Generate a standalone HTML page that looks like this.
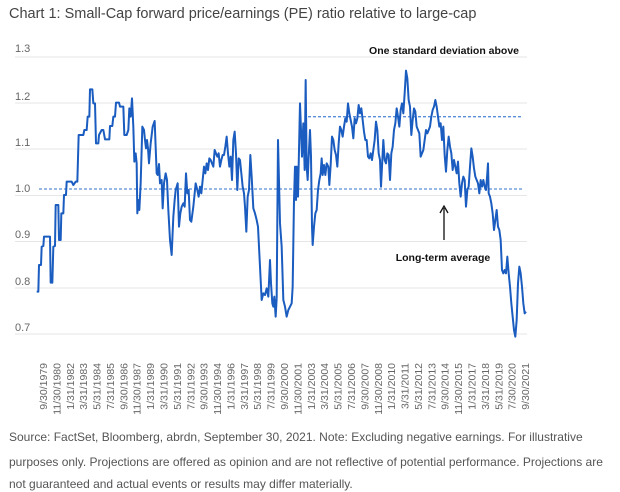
<!DOCTYPE html>
<html><head><meta charset="utf-8"><style>
html,body{margin:0;padding:0;background:#fff;width:620px;height:492px;overflow:hidden}
svg{display:block;font-family:"Liberation Sans",sans-serif}
</style></head><body>
<svg width="620" height="492" viewBox="0 0 620 492">
<text x="9" y="18" font-size="14.5" fill="#444">Chart 1: Small-Cap forward price/earnings (PE) ratio relative to large-cap</text>
<g stroke="#e6e6e6" stroke-width="1">
<line x1="15" x2="527" y1="57" y2="57"/><line x1="15" x2="527" y1="103" y2="103"/>
<line x1="15" x2="527" y1="149" y2="149"/><line x1="15" x2="527" y1="195.5" y2="195.5"/>
<line x1="15" x2="527" y1="241.5" y2="241.5"/><line x1="15" x2="527" y1="288" y2="288"/>
<line x1="15" x2="527" y1="334" y2="334"/>
</g>
<g font-size="11" fill="#666">
<text x="15" y="52">1.3</text><text x="15" y="100">1.2</text><text x="15" y="146">1.1</text>
<text x="15" y="192">1.0</text><text x="15" y="238">0.9</text><text x="15" y="285">0.8</text><text x="15" y="331">0.7</text>
</g>
<g stroke="#5b8ed8" stroke-width="1.3" stroke-dasharray="3,2">
<line x1="39" x2="522" y1="189" y2="189"/>
<line x1="308" x2="522" y1="116.7" y2="116.7"/>
</g>
<text x="519" y="54" font-size="10.5" font-weight="bold" fill="#111" text-anchor="end">One standard deviation above</text>
<text x="443" y="261" font-size="10.5" font-weight="bold" fill="#111" text-anchor="middle">Long-term average</text>
<line x1="444" y1="240" x2="444" y2="208" stroke="#111" stroke-width="1.3"/>
<path d="M440,213 L444,206 L448,213" fill="none" stroke="#111" stroke-width="1.3"/>
<g fill="none" stroke="#1a5cbf" stroke-width="2" stroke-linejoin="round">
<g transform="translate(20,40) scale(0.33333)">
<polyline vector-effect="non-scaling-stroke" points="50,755 55,755 57,675 63,675 65,620 70,618 72,590 90,590 92,728 97,728 100,620 105,618 107,495 115,495 117,600 122,600 124,520 130,520 132,465 138,465 140,425 155,425 160,435 167,425 172,425 176,285 190,285 193,270 200,270 203,230 208,230 210,148 217,148 220,190 225,190 228,310 235,310 237,285 245,270 250,270 255,298 268,298 270,258 277,258 280,230 285,230 288,188 297,188 300,200 310,200 313,285 320,285 325,270 328,205 332,230 336,175 340,260 343,365 347,340 350,370 352,520 355,480 358,510 362,430 367,260 372,270 375,300 378,325 381,300 384,325 387,370 392,310 398,260 404,243 410,400 413,405 417,372 420,430 425,420 428,505 432,430 437,400 441,420 445,510 450,600 455,645 460,530 464,480 467,450 470,440 473,430 477,560 481,520 485,500 490,490 494,500 498,400 502,460 506,450 510,540 514,545 520,500 527,430 532,450 536,470 540,440 544,460 548,420 552,380 556,400 560,370 564,390 568,355 572,360 576,370 580,380 584,330 588,340 592,350 596,340 600,380 604,360 608,345 612,345 616,320 620,290 624,340 628,380 632,350 636,420 640,300 644,275 648,340 652,450 656,355 660,360 664,400 668,440 672,460 675,500 679,575 683,470 687,450 691,345 695,410 700,505 705,520 710,540 714,560 718,640 722,720 725,780 730,760 735,765 740,745 745,770 750,660 753,730 757,790 760,800 763,770 767,830 770,775"/>
</g>
<g transform="translate(270,40) scale(0.33333)">
<polyline vector-effect="non-scaling-stroke" points="20,775 24,300 30,550 35,620 40,780 45,800 50,830 55,810 60,800 65,790 68,740 72,480 75,380 78,480 80,380 84,470 87,330 90,190 93,270 96,350 100,250 104,390 107,120 110,380 113,420 116,350 120,270 123,350 126,560 128,615 132,560 136,520 140,510 144,450 148,420 152,400 155,355 158,405 162,375 166,405 170,370 175,380 178,435 182,375 186,290 190,300 194,330 198,345 202,380 206,310 210,260 214,270 218,290 222,260 226,235 230,245 234,190 238,220 242,240 246,260 250,295 254,235 258,250 262,235 266,195 270,220 274,205 278,240 282,275 286,300 290,300 294,350 298,355 302,340 306,360 310,330 314,300 318,245 322,270 326,340 330,360 333,440 336,380 340,300 344,360 348,370 352,340 356,345 360,420 364,340 368,320 372,270 376,250 380,205 384,230 388,260 392,210 396,190 400,220 404,160 408,92 412,115 416,180 420,200 424,285 428,240 432,205 436,215 440,260 444,270 448,280 452,350 456,340 460,330 464,300 468,270 472,280 476,270 480,260 484,230 488,210 492,200 496,180 500,200 504,230 508,260 512,250 516,300 520,260 524,345 528,395 532,330 536,290 540,320 544,340 548,390 552,360 556,380 560,400 564,365 568,430 572,470 576,430 580,410 584,420 588,500 592,450 596,440 600,380 604,325 608,350 612,385 616,410 620,420 624,430 628,460 632,420 636,440 640,420 644,440 648,450 652,400 654,370 656,460 660,470 664,490 668,520 672,570 676,540 680,510 684,560 688,570 692,600 696,690 700,700 704,690 708,700 712,650 716,700 720,740 724,790 728,830 732,870 736,890 740,840 744,730 748,680 752,700 756,740 760,790 764,820 768,815"/>
</g>
</g>
<g font-size="10.5" fill="#666" text-anchor="end">
<text transform="translate(47,363) rotate(-90)">9/30/1979</text>
<text transform="translate(60.4,363) rotate(-90)">11/30/1980</text>
<text transform="translate(73.8,363) rotate(-90)">1/31/1982</text>
<text transform="translate(87.2,363) rotate(-90)">3/31/1983</text>
<text transform="translate(100.6,363) rotate(-90)">5/31/1984</text>
<text transform="translate(113.9,363) rotate(-90)">7/31/1985</text>
<text transform="translate(127.3,363) rotate(-90)">9/30/1986</text>
<text transform="translate(140.7,363) rotate(-90)">11/30/1987</text>
<text transform="translate(154.1,363) rotate(-90)">1/31/1989</text>
<text transform="translate(167.5,363) rotate(-90)">3/31/1990</text>
<text transform="translate(180.9,363) rotate(-90)">5/31/1991</text>
<text transform="translate(194.3,363) rotate(-90)">7/31/1992</text>
<text transform="translate(207.7,363) rotate(-90)">9/30/1993</text>
<text transform="translate(221.1,363) rotate(-90)">11/30/1994</text>
<text transform="translate(234.5,363) rotate(-90)">1/31/1996</text>
<text transform="translate(247.9,363) rotate(-90)">3/31/1997</text>
<text transform="translate(261.2,363) rotate(-90)">5/31/1998</text>
<text transform="translate(274.6,363) rotate(-90)">7/31/1999</text>
<text transform="translate(288,363) rotate(-90)">9/30/2000</text>
<text transform="translate(301.4,363) rotate(-90)">11/30/2001</text>
<text transform="translate(314.8,363) rotate(-90)">1/31/2003</text>
<text transform="translate(328.2,363) rotate(-90)">3/31/2004</text>
<text transform="translate(341.6,363) rotate(-90)">5/31/2005</text>
<text transform="translate(355,363) rotate(-90)">7/31/2006</text>
<text transform="translate(368.4,363) rotate(-90)">9/30/2007</text>
<text transform="translate(381.8,363) rotate(-90)">11/30/2008</text>
<text transform="translate(395.2,363) rotate(-90)">1/31/2010</text>
<text transform="translate(408.5,363) rotate(-90)">3/31/2011</text>
<text transform="translate(421.9,363) rotate(-90)">5/31/2012</text>
<text transform="translate(435.3,363) rotate(-90)">7/31/2013</text>
<text transform="translate(448.7,363) rotate(-90)">9/30/2014</text>
<text transform="translate(462.1,363) rotate(-90)">11/30/2015</text>
<text transform="translate(475.5,363) rotate(-90)">1/31/2017</text>
<text transform="translate(488.9,363) rotate(-90)">3/31/2018</text>
<text transform="translate(502.3,363) rotate(-90)">5/31/2019</text>
<text transform="translate(515.7,363) rotate(-90)">7/30/2020</text>
<text transform="translate(529,363) rotate(-90)">9/30/2021</text>
</g>
<g font-size="12" fill="#555">
<text x="9" y="441">Source: FactSet, Bloomberg, abrdn, September 30, 2021. Note: Excluding negative earnings. For illustrative</text>
<text x="9" y="466">purposes only. Projections are offered as opinion and are not reflective of potential performance. Projections are</text>
<text x="9" y="488">not guaranteed and actual events or results may differ materially.</text>
</g>
</svg>
</body></html>
